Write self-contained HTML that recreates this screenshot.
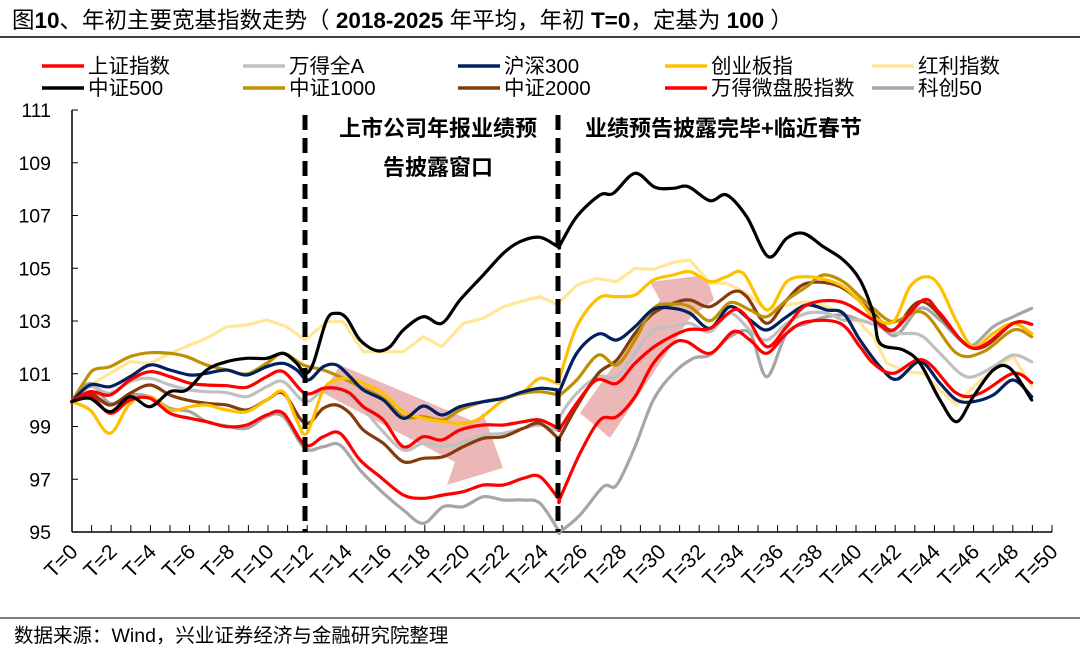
<!DOCTYPE html>
<html><head><meta charset="utf-8">
<style>
body{margin:0;background:#fff;width:1080px;height:649px;overflow:hidden}
svg{display:block}
text{font-family:"Liberation Sans","Noto Sans CJK SC",sans-serif}
</style></head><body>
<svg id="s" width="1080" height="649" xmlns="http://www.w3.org/2000/svg">
<text x="12" y="28" font-size="22.5" fill="#000">图<tspan font-weight="bold">10</tspan>、年初主要宽基指数走势（ <tspan font-weight="bold">2018-2025</tspan> 年平均，年初 <tspan font-weight="bold">T=0</tspan>，定基为 <tspan font-weight="bold">100</tspan> ）</text>
<line x1="0" y1="37" x2="1080" y2="37" stroke="#000" stroke-width="1.5"/>
<line x1="0" y1="618" x2="1080" y2="618" stroke="#000" stroke-width="1"/>
<text x="14" y="642" font-size="19.5" fill="#000">数据来源：Wind，兴业证券经济与金融研究院整理</text>
<g id="legend"></g>
<g id="axes"></g>
<polygon points="340,365 475,422 483,413 503,468 447,485 455,462 323,393" fill="#d97070" fill-opacity="0.5"/>
<polygon points="580,413 660,300 650,282 706,275 714,300 690,318 610,438" fill="#d97070" fill-opacity="0.5"/>
<g id="series" fill="none" stroke-linejoin="round" stroke-linecap="round"></g>
<line x1="305" y1="115" x2="305" y2="532" stroke="#000" stroke-width="5" stroke-dasharray="15,8"/>
<line x1="558" y1="115" x2="558" y2="532" stroke="#000" stroke-width="5" stroke-dasharray="15,8"/>
<text x="438" y="136" font-size="22" font-weight="bold" text-anchor="middle">上市公司年报业绩预</text>
<text x="438" y="175" font-size="22" font-weight="bold" text-anchor="middle">告披露窗口</text>
<text x="585" y="136" font-size="22" font-weight="bold">业绩预告披露完毕+临近春节</text>
</svg>
<script>
const NS="http://www.w3.org/2000/svg";
function el(t,a,p,txt){const e=document.createElementNS(NS,t);for(const k in a)e.setAttribute(k,a[k]);if(txt!==undefined)e.textContent=txt;p.appendChild(e);return e;}
const ax=document.getElementById('axes');
el('line',{x1:72,y1:110,x2:72,y2:532,stroke:'#000','stroke-width':1.5},ax);
el('line',{x1:72,y1:532,x2:1052,y2:532,stroke:'#000','stroke-width':1.5},ax);
for(let v=95;v<=111;v+=2){const y=532-(v-95)*26.375;
 el('line',{x1:72,y1:y,x2:78,y2:y,stroke:'#000','stroke-width':1},ax);
 el('text',{x:51,y:y+7,'font-size':19.5,'text-anchor':'end'},ax,v);}
for(let t=0;t<=50;t++){const x=72+t*19.6;
 el('line',{x1:x,y1:525,x2:x,y2:532,stroke:'#000','stroke-width':1},ax);
 if(t%2==0){el('text',{x:0,y:0,'font-size':21,'text-anchor':'end',transform:`translate(${x+7},${553}) rotate(-45)`},ax,'T='+t);}}
const lg=document.getElementById('legend');
const L=[["上证指数","#FF0000",42,66],["万得全A","#C0C0C0",243,66],["沪深300","#002060",458,66],["创业板指","#FFC000",665,66],["红利指数","#FFE699",872,66],
["中证500","#000000",42,88],["中证1000","#BF9000",243,88],["中证2000","#843C0C",458,88],["万得微盘股指数","#FF0000",665,88],["科创50","#A6A6A6",872,88]];
L.forEach(([n,c,x,y])=>{el('line',{x1:x,y1:y,x2:x+42,y2:y,stroke:c,'stroke-width':3.5},lg);el('text',{x:x+46,y:y+7,'font-size':20.5},lg,n);});
function A(a){const r=[];for(let i=0;i<a.length;i+=2)r.push([60+a[i]/3,100+a[i+1]/3]);return r;}
function B(a){const r=[];for(let i=0;i<a.length;i+=2)r.push([540+a[i]/3,100+a[i+1]/3]);return r;}
function path(p,smooth){if(!smooth)return 'M'+p.map(q=>q[0].toFixed(1)+','+q[1].toFixed(1)).join('L');
 let d='M'+p[0][0]+','+p[0][1];for(let i=0;i<p.length-1;i++){const p0=p[i-1]||p[i],p1=p[i],p2=p[i+1],p3=p[i+2]||p2;
 const c1=[p1[0]+(p2[0]-p0[0])/6,p1[1]+(p2[1]-p0[1])/6],c2=[p2[0]-(p3[0]-p1[0])/6,p2[1]-(p3[1]-p1[1])/6];
 d+=`C${c1[0].toFixed(1)},${c1[1].toFixed(1)} ${c2[0].toFixed(1)},${c2[1].toFixed(1)} ${p2[0].toFixed(1)},${p2[1].toFixed(1)}`;}return d;}
const S=[
["#FFE699",false,A([35,905,100,850,150,820,210,785,270,790,330,760,390,735,440,715,500,680,560,675,620,660,680,680,735,720,800,665,850,665,910,755,970,755,1030,755,1090,710,1145,740,1210,670,1270,655,1330,620,1380,605,1440,590,1495,615]).concat(B([60,605,110,555,170,535,230,545,285,505,340,508,400,487,450,480,510,550,560,550,620,580,680,630,740,615,800,605,860,620,910,640,960,670,1000,710,1040,790,1100,815,1150,820,1200,870,1250,915,1300,860,1360,810,1420,770,1475,860]))],
["#A6A6A6",true,A([35,905,90,850,150,910,210,885,270,890,330,925,390,935,440,965,500,978,560,985,620,950,670,950,735,1045,790,1040,840,1035,900,1110,960,1170,1030,1230,1090,1270,1150,1220,1210,1220,1270,1190,1330,1200,1390,1200,1440,1210,1495,1290]).concat(B([60,1295,120,1245,190,1160,230,1155,285,1040,340,900,400,820,460,775,510,765,570,710,630,700,680,830,740,700,800,670,860,650,910,645,960,660,1020,680,1070,705,1140,625,1200,660,1260,720,1300,735,1360,680,1420,650,1475,625]))],
["#C0C0C0",true,A([35,905,90,860,150,880,210,845,270,835,330,855,390,870,440,875,500,878,560,890,620,860,670,845,735,905,790,870,840,870,900,915,960,985,1030,1050,1090,1030,1150,1040,1210,1025,1270,1005,1330,1000,1390,985,1440,975,1495,990]).concat(B([60,950,110,880,175,830,230,830,285,760,340,690,400,680,450,670,510,695,570,640,630,690,680,720,740,670,800,640,860,640,910,660,960,660,1020,680,1070,700,1140,705,1200,760,1260,820,1300,830,1360,800,1420,765,1475,785]))],
["#843C0C",true,A([35,905,90,880,150,915,210,880,270,855,330,885,380,900,440,910,500,915,560,930,620,900,670,880,735,970,790,925,830,915,870,940,910,990,970,1030,1030,1085,1090,1075,1150,1070,1210,1040,1270,1015,1330,1010,1390,985,1440,970,1495,1015]).concat(B([60,1010,110,920,175,820,230,780,285,700,340,640,400,610,450,600,510,620,580,575,620,590,680,670,740,600,800,550,900,560,1000,640,1060,690,1150,605,1300,745,1420,670,1475,673]))],
["#BF9000",true,A([35,905,70,850,100,810,150,800,210,770,270,758,330,760,380,770,440,795,500,810,560,822,620,790,670,760,730,795,790,810,850,835,910,865,970,895,1030,950,1090,950,1150,960,1200,930,1270,905,1330,895,1390,880,1440,875,1495,885]).concat(B([60,885,110,840,175,765,230,795,285,720,340,625,400,612,450,620,510,662,570,608,630,630,680,650,740,600,800,560,850,525,910,545,960,590,1000,625,1060,665,1150,638,1250,760,1330,755,1420,690,1475,710]))],
["#FFC000",true,A([35,905,90,930,150,1000,210,910,270,890,330,930,390,920,440,915,500,930,560,935,620,900,670,875,710,960,740,1000,790,870,830,840,870,835,910,850,970,880,1030,935,1090,955,1150,965,1210,970,1260,955,1330,900,1390,875,1440,835,1495,850]).concat(B([60,830,110,680,175,595,230,590,285,585,340,540,400,525,450,515,510,545,560,530,610,520,680,630,740,545,800,530,860,540,910,560,960,605,1000,650,1060,665,1110,560,1160,530,1200,560,1250,665,1300,740,1360,700,1420,670,1475,700]))],
["#002060",true,A([35,905,90,855,150,860,210,830,270,795,330,810,390,825,440,820,500,810,560,825,620,800,670,790,710,810,745,840,790,800,830,795,870,830,910,870,970,900,1030,955,1090,918,1145,945,1200,920,1270,905,1330,895,1390,875,1440,865,1495,870]).concat(B([60,870,110,760,175,702,230,720,285,680,340,628,400,625,450,640,510,685,570,620,630,660,680,690,740,650,800,615,860,630,910,640,960,720,1020,800,1070,838,1140,785,1200,850,1250,900,1300,905,1360,885,1420,840,1475,890]))],
["#FF0000",true,A([35,905,90,885,150,940,210,900,270,895,330,940,390,955,440,965,500,980,560,975,620,945,670,940,735,1035,790,1010,840,1000,900,1080,960,1130,1030,1185,1090,1195,1150,1185,1210,1175,1270,1155,1330,1155,1390,1135,1440,1130,1495,1195]).concat(B([60,1195,120,1060,180,960,230,950,285,890,340,790,400,730,440,725,510,760,580,695,630,720,680,760,740,700,800,665,900,670,960,740,1000,790,1060,820,1150,780,1250,880,1320,880,1420,820,1475,848]))],
["#FF0000",true,A([35,905,90,875,150,885,210,840,270,815,330,830,390,850,440,855,500,857,560,862,620,830,670,815,735,880,790,865,830,865,870,880,910,920,970,960,1030,1040,1090,1010,1145,1020,1200,990,1270,975,1330,975,1390,965,1440,960,1495,985]).concat(B([60,985,110,910,170,840,230,850,285,790,350,735,440,690,510,685,580,630,620,650,680,740,740,680,800,615,900,605,1000,660,1060,690,1150,600,1200,640,1300,745,1420,670,1475,673]))],
["#000000",true,A([35,905,90,895,150,935,210,890,270,920,330,875,380,870,440,810,500,785,560,775,620,775,670,760,710,790,735,820,760,790,800,660,830,640,860,655,900,720,950,752,990,740,1030,690,1090,650,1145,670,1200,600,1270,525,1330,460,1380,425,1440,412,1495,440]).concat(B([60,435,110,350,180,285,220,280,285,220,345,262,400,265,445,260,510,302,560,285,620,350,685,470,740,415,790,400,850,440,910,480,960,540,1000,640,1020,730,1090,750,1140,790,1200,900,1250,965,1300,890,1360,810,1410,805,1475,900]))]
];
const sg=document.getElementById('series');
S.forEach(([c,sm,p])=>el('path',{d:path(p,sm),stroke:c,'stroke-width':3.2},sg));
</script>
</body></html>
